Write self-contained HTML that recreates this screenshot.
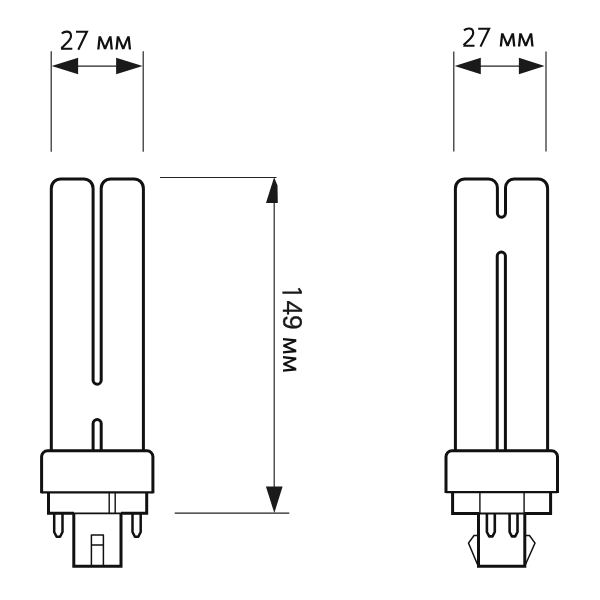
<!DOCTYPE html>
<html><head><meta charset="utf-8">
<style>
html,body{margin:0;padding:0;background:#fff;}
svg{display:block;will-change:transform;}
text{font-family:"Liberation Sans",sans-serif;fill:#1a1a1a;}
</style></head>
<body>
<svg width="600" height="600" viewBox="0 0 600 600">
<defs><g id="n27" fill="none" stroke="#111" stroke-width="2.1"><path d="M61.8 33.5 C63.3 32.2 64.9 31.65 66.6 31.65 C69.4 31.65 71.0 33.3 71.0 36.0 C71.0 38.8 69.0 41.0 66.0 43.8 L62.0 47.7" stroke-linejoin="round"/><path d="M61.0 48.8 H72.3 M62.8 46.9 L61.4 48.6"/><path d="M76.0 31.8 H86.9 L78.3 49.7" stroke-linejoin="miter"/></g><path id="em" d="M0 0 L1.4 -14 L3.8 -14 L8 -3.8 L12.2 -14 L14.6 -14 L16 0 L13.7 0 L12.65 -9.6 L9.1 -0.2 L6.9 -0.2 L3.35 -9.6 L2.3 0 Z"/></defs>
<rect width="600" height="600" fill="#fff"/>
<!-- ===== LEFT LAMP ===== -->
<g fill="none" stroke="#111" stroke-width="3" stroke-linejoin="round">
  <path d="M51.3 450.7 V188.4 A9.5 9.5 0 0 1 60.8 178.9 H83.6 A9.5 9.5 0 0 1 93.1 188.4 V380.2 A4.05 4.05 0 0 0 101.2 380.2 V188.4 A9.5 9.5 0 0 1 110.7 178.9 H133.9 A9.5 9.5 0 0 1 143.4 188.4 V450.7"/>
  <path d="M93.1 450.7 V423.6 A4.05 4.05 0 0 1 101.2 423.6 V450.7"/>
  <path d="M41.6 493.3 V456.7 A6 6 0 0 1 47.6 450.75 H146.9 A6 6 0 0 1 152.9 456.7 V493.3" stroke-linejoin="miter"/>
  <path d="M41.6 492.3 H152.9" stroke-width="2.2"/>
  <path d="M48.5 492.3 V513.3 H74 M121 513.3 H146.7 V492.3" stroke-linejoin="miter"/>
  <path d="M73.8 513.3 V566.3 H121 V513.3" stroke-linejoin="miter"/>
  <path d="M54.2 513.3 V532 L56.6 536.8 H60.1 L62.5 532 V513.3" stroke-width="2.5"/>
  <path d="M132.5 513.3 V532 L134.9 536.8 H138.3 L140.7 532 V513.3" stroke-width="2.5"/>
  <path d="M91.4 566 V535 H103.4 V566 M91.4 545.1 H103.4" stroke-width="1.5"/>
  <path d="M74 513.3 H121" stroke-width="1.8"/>
  <path d="M109.2 492.2 V513.4 M115.2 492.2 V513.4" stroke-width="1.4"/>
</g>
<!-- left dims -->
<g stroke="#222" stroke-width="1.17" fill="none">
  <path d="M51.2 51.2 V151.8 M143.2 51.2 V151.8"/>
  <path d="M60 66.15 H135" stroke-width="1.2"/>
</g>
<g fill="#1a1a1a">
  <polygon points="51.7,66.1 78.1,57.8 78.1,74.3"/>
  <polygon points="142.6,66.1 116.1,57.8 116.1,74.3"/>
</g>
<use href="#n27"/>
<g fill="#111"><use href="#em" transform="translate(97.2,49.4) scale(0.981,0.943)"/><use href="#em" transform="translate(115.4,49.4) scale(0.981,0.943)"/></g>

<!-- vertical dim -->
<g stroke="#222" stroke-width="1.17" fill="none">
  <path d="M160 177.5 H276.5 M174.7 513.15 H289.3"/>
  <path d="M274.2 190 V500"/>
</g>
<g fill="#1a1a1a">
  <polygon points="274.1,177.2 277.5,185.5 277.8,203 266,203"/>
  <polygon points="265.9,486.4 282.6,486.4 274.3,513"/>
</g>
<polygon points="282.4,291.4 299.4,291.4 297.7,288.7 299.5,287.7 301.9,291.4 301.9,293.8 282.4,293.8" fill="#1a1a1a"/>
<text transform="translate(282.5,300.4) rotate(90)" font-size="27" textLength="29.4" lengthAdjust="spacingAndGlyphs" stroke="#1a1a1a" stroke-width="0.3">49</text>
<g fill="#111"><use href="#em" transform="translate(283,338.0) rotate(90) scale(0.97,0.95)"/><use href="#em" transform="translate(283,356.1) rotate(90) scale(0.985,0.95)"/></g>

<!-- ===== RIGHT LAMP ===== -->
<g fill="none" stroke="#111" stroke-width="3" stroke-linejoin="round">
  <path d="M455.4 450.7 V188.4 A9.5 9.5 0 0 1 464.9 178.9 H488.6 A8.8 8.8 0 0 1 497.4 187.7 V213.1 A4.05 4.05 0 0 0 505.5 213.1 V187.7 A8.8 8.8 0 0 1 514.3 178.9 H538.1 A9.5 9.5 0 0 1 547.6 188.4 V450.7"/>
  <path d="M497.25 450.7 V256.1 A4.07 4.07 0 0 1 505.4 256.1 V450.7"/>
  <path d="M446 493.1 V456.7 A6 6 0 0 1 452 450.7 H551.5 A6 6 0 0 1 557.5 456.7 V493.1" stroke-linejoin="miter"/>
  <path d="M446 492.1 H557.5" stroke-width="2.2"/>
  <path d="M452.6 492 V513.5 H479 M524.5 513.5 H550.6 V492" stroke-linejoin="miter"/>
  <path d="M478.5 513.5 V566.2 H524.8 V513.5" stroke-linejoin="miter"/>
  <path d="M486.9 513.5 V532 L489.2 536.4 H492.5 L494.8 532 V513.5" stroke-width="2.6"/>
  <path d="M509.6 513.5 V532 L511.9 536.4 H515.2 L517.5 532 V513.5" stroke-width="2.6"/>
  <path d="M479 513.5 H524.5" stroke-width="1.8"/>
  <path d="M479.9 492 V513.5 M524.1 492 V513.5" stroke-width="1.4"/>
  <path d="M478 535.5 H474 L468.5 543 L477.5 564.5 M525 535.5 H529.5 L535 543 L525.5 564.5" stroke-width="1.5" stroke-linejoin="miter"/>
</g>
<!-- right dims -->
<g stroke="#222" stroke-width="1.17" fill="none">
  <path d="M453.8 51.5 V151.4 M546 51.5 V151.4"/>
  <path d="M470 66.15 H530" stroke-width="1.2"/>
</g>
<g fill="#1a1a1a">
  <polygon points="454.7,66.1 480.8,57.8 480.8,74.3"/>
  <polygon points="544.6,66.1 518.9,57.8 518.9,74.3"/>
</g>
<use href="#n27" transform="translate(402.2,-3.1)"/>
<g fill="#111"><use href="#em" transform="translate(499.7,46.4) scale(0.981,0.943)"/><use href="#em" transform="translate(517.9,46.4) scale(0.981,0.943)"/></g>
</svg>
</body></html>
